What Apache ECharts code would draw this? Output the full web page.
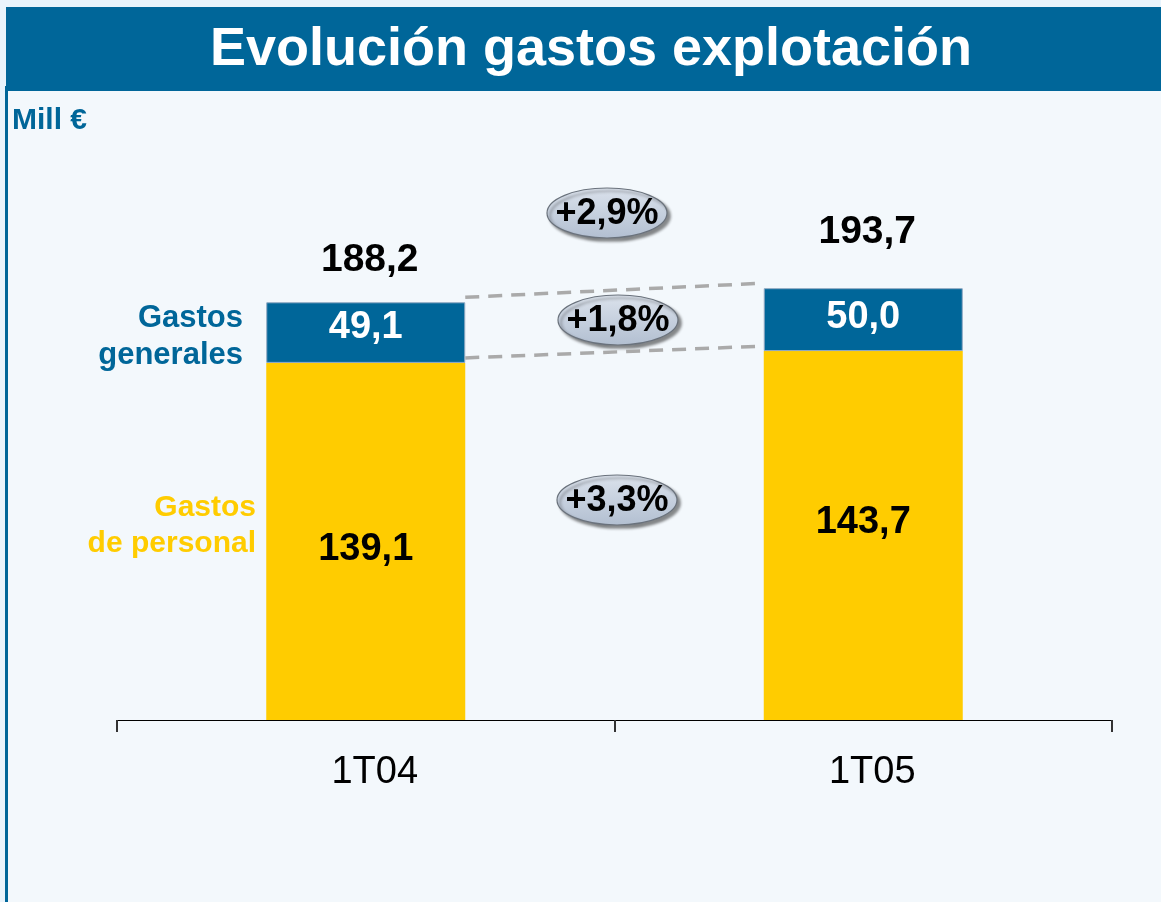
<!DOCTYPE html>
<html>
<head>
<meta charset="utf-8">
<script src="https://cdn.jsdelivr.net/npm/echarts@6/dist/echarts.min.js"></script>
<style>
  html, body { margin: 0; padding: 0; background: #e9f4fc; }
  #main { width: 1161px; height: 902px; }
</style>
</head>
<body>
<div id="main"></div>
<script>
var categories = ['1T04', '1T05'];
var personal = [139.1, 143.7];
var generales = [49.1, 50.0];
var totals = [188.2, 193.7];
var changes = ['+2,9%', '+1,8%', '+3,3%'];

var FONT = '"Liberation Sans", Arial, sans-serif';
var BLUE = '#006699';
var YELLOW = '#ffcc00';
// vertical nudges of the labels inside the bars (the original isn't centred)
var personalDy = [8, -13];
var generalesDy = [-5, -2];

function fmt(v) { return v.toFixed(1).replace('.', ','); }

// little grey-blue ellipse with the change percentage
function badge(cx, cy, txt) {
  return {
    type: 'group', x: cx, y: cy,
    children: [
      { type: 'ellipse', shape: { cx: 0, cy: 0, rx: 60, ry: 25 },
        style: {
          fill: new echarts.graphic.LinearGradient(0, 0, 0, 1, [
            { offset: 0, color: '#dbe2ec' }, { offset: 1, color: '#b2bfd1' }
          ]),
          stroke: '#6a727c', lineWidth: 1.2,
          shadowColor: 'rgba(0,0,0,0.45)', shadowOffsetX: 3, shadowOffsetY: 3, shadowBlur: 3
        } },
      { type: 'text', style: { text: txt, x: 0, y: 1, align: 'center', verticalAlign: 'middle',
        font: 'bold 36px ' + FONT, fill: '#000' } }
    ]
  };
}

var chart = echarts.init(document.getElementById('main'));

var option = {
  backgroundColor: 'transparent',
  animation: false,
  graphic: [
    { type: 'rect', z: -10, shape: { x: 8, y: 91, width: 1153, height: 811 }, style: { fill: '#f3f8fc' } },
    { type: 'rect', shape: { x: 6, y: 7, width: 1155, height: 84 }, style: { fill: BLUE } },
    { type: 'rect', shape: { x: 5, y: 86, width: 3, height: 816 }, style: { fill: BLUE } },
    { type: 'text', style: { text: 'Evolución gastos explotación', x: 591, y: 50, align: 'center',
      verticalAlign: 'middle', font: 'bold 54px ' + FONT, fill: '#fff' } },
    { type: 'text', style: { text: 'Mill €', x: 12, y: 121, verticalAlign: 'middle',
      font: 'bold 30px ' + FONT, fill: BLUE } },
    { type: 'text', style: { text: 'Gastos\ngenerales', x: 243, y: 337, align: 'right',
      verticalAlign: 'middle', lineHeight: 37, font: 'bold 31px ' + FONT, fill: BLUE } },
    { type: 'text', style: { text: 'Gastos\nde personal', x: 256, y: 526, align: 'right',
      verticalAlign: 'middle', lineHeight: 36, font: 'bold 30px ' + FONT, fill: YELLOW } },
    badge(607, 213, changes[0]),
    badge(618, 320, changes[1]),
    badge(617, 500, changes[2])
  ],
  grid: { left: 117, right: 49, top: 272, bottom: 182 },
  xAxis: {
    type: 'category',
    data: categories,
    axisLine: { lineStyle: { color: '#000', width: 1 } },
    axisTick: { show: true, alignWithLabel: false, length: 12, lineStyle: { color: '#333', width: 2 } },
    axisLabel: { fontSize: 38, color: '#000', margin: 34, fontFamily: FONT, padding: [0, 0, 0, 18] }
  },
  yAxis: {
    type: 'value',
    min: 0,
    max: 200,
    show: false,
    splitLine: { show: false },
    breaks: [{ start: 150, end: 180, gap: 4.5 }],
    breakArea: { show: false }
  },
  series: [
    {
      name: 'Gastos de personal', type: 'bar', stack: 'g', barWidth: '40%',
      data: personal.map(function (v, i) {
        return { value: v, label: { offset: [0, personalDy[i]] } };
      }),
      itemStyle: { color: YELLOW },
      label: { show: true, position: 'inside', formatter: function (p) { return fmt(p.value); },
        fontSize: 38, fontWeight: 'bold', color: '#000', fontFamily: FONT }
    },
    {
      name: 'Gastos generales', type: 'bar', stack: 'g', barWidth: '40%',
      data: generales.map(function (v, i) {
        return { value: v, label: { offset: [0, generalesDy[i]] } };
      }),
      itemStyle: { color: BLUE, borderColor: '#8fa8c2', borderWidth: 1 },
      label: { show: true, position: 'inside', formatter: function (p) { return fmt(p.value); },
        fontSize: 38, fontWeight: 'bold', color: '#fff', fontFamily: FONT }
    },
    {
      // totals above the bars and the dashed connectors between them
      type: 'custom', z: 5, clip: false,
      data: categories.map(function (c, i) { return [i, totals[i]]; }),
      renderItem: function (params, api) {
        var i = api.value(0);
        var top = api.coord([i, personal[i] + generales[i]]);
        var half = api.size([1, 0])[0] * 0.2;
        var children = [{
          type: 'text',
          style: { text: fmt(api.value(1)), x: top[0] + 4, y: top[1] - (i === 0 ? 42 : 56),
            align: 'center', verticalAlign: 'middle', font: 'bold 39px ' + FONT, fill: '#000' }
        }];
        if (i < categories.length - 1) {
          var a1 = api.coord([i, personal[i] + generales[i]]);
          var b1 = api.coord([i + 1, personal[i + 1] + generales[i + 1]]);
          var a2 = api.coord([i, personal[i]]);
          var b2 = api.coord([i + 1, personal[i + 1]]);
          [[a1, b1], [a2, b2]].forEach(function (seg) {
            children.push({
              type: 'line',
              shape: { x1: seg[0][0] + half, y1: seg[0][1] - 5, x2: seg[1][0] - half, y2: seg[1][1] - 5 },
              style: { stroke: '#aaaaaa', lineWidth: 3.5, lineDash: [14, 9] }
            });
          });
        }
        return { type: 'group', children: children };
      }
    }
  ]
};

chart.setOption(option);
</script>
</body>
</html>
